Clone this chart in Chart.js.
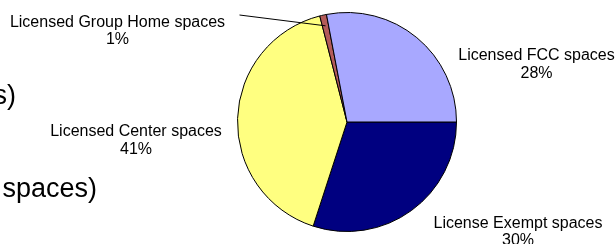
<!DOCTYPE html>
<html>
<head>
<meta charset="utf-8">
<script src="https://cdn.jsdelivr.net/npm/chart.js@4.4.0/dist/chart.umd.min.js"></script>
<style>
    html, body { margin: 0; padding: 0; background: #fff; }
    #wrap { position: relative; width: 616px; height: 244px; }
</style>
</head>
<body>
<div id="wrap"><canvas id="pieChart" width="616" height="244"></canvas></div>
<script>
// Slices in clockwise order, starting at 3 o'clock
const categories = ['License Exempt spaces', 'Licensed Center spaces', 'Licensed Group Home spaces', 'Licensed FCC spaces'];
const shares = [30, 41, 1, 28];
const sliceColors = ['#000080', '#FFFF80', '#B35B59', '#A8A8FF'];

// label anchors (center x, first baseline) for each slice, same order
const labelPos = [
    [518, 227.5],
    [136, 136],
    [117.5, 26.5],
    [536.5, 60]
];

// cut-off title text on the left edge of the slide
const sideText = [
    { text: 's)', x: 16, y: 104, align: 'right' },
    { text: 'spaces)', x: 2.5, y: 197, align: 'left' }
];

document.addEventListener('DOMContentLoaded', function() {
    const ctx = document.getElementById('pieChart').getContext('2d');

    const labelPlugin = {
        id: 'pieLabels',
        afterDraw(chart) {
            const c = chart.ctx;
            const arcs = chart.getDatasetMeta(0).data;
            const total = shares.reduce((a, b) => a + b, 0);
            c.save();
            c.fillStyle = '#000';
            c.textBaseline = 'alphabetic';

            // leader line for the tiny slice
            const small = arcs[2];
            const mid = (small.startAngle + small.endAngle) / 2;
            const r = small.outerRadius * 0.9;
            c.strokeStyle = '#000';
            c.lineWidth = 1;
            c.beginPath();
            c.moveTo(239.5, 15);
            c.lineTo(small.x + Math.cos(mid) * r, small.y + Math.sin(mid) * r);
            c.stroke();

            c.font = '16px "Liberation Sans", Arial, sans-serif';
            c.textAlign = 'center';
            categories.forEach((name, i) => {
                const [x, y] = labelPos[i];
                c.fillText(name, x, y);
                c.fillText(Math.round(shares[i] / total * 100) + '%', x, y + 17.7);
            });

            c.font = '27px "Liberation Sans", Arial, sans-serif';
            sideText.forEach(t => {
                c.textAlign = t.align;
                c.fillText(t.text, t.x, t.y);
            });
            c.restore();
        }
    };

    new Chart(ctx, {
        type: 'pie',
        data: {
            labels: categories,
            datasets: [{
                data: shares,
                backgroundColor: sliceColors,
                borderColor: '#000',
                borderWidth: 1,
                hoverOffset: 0
            }]
        },
        options: {
            responsive: false,
            animation: false,
            rotation: 90,
            layout: {
                padding: { left: 237, right: 159, top: 12, bottom: 12 }
            },
            plugins: {
                legend: { display: false },
                tooltip: { enabled: false }
            }
        },
        plugins: [labelPlugin]
    });
});
</script>
</body>
</html>
